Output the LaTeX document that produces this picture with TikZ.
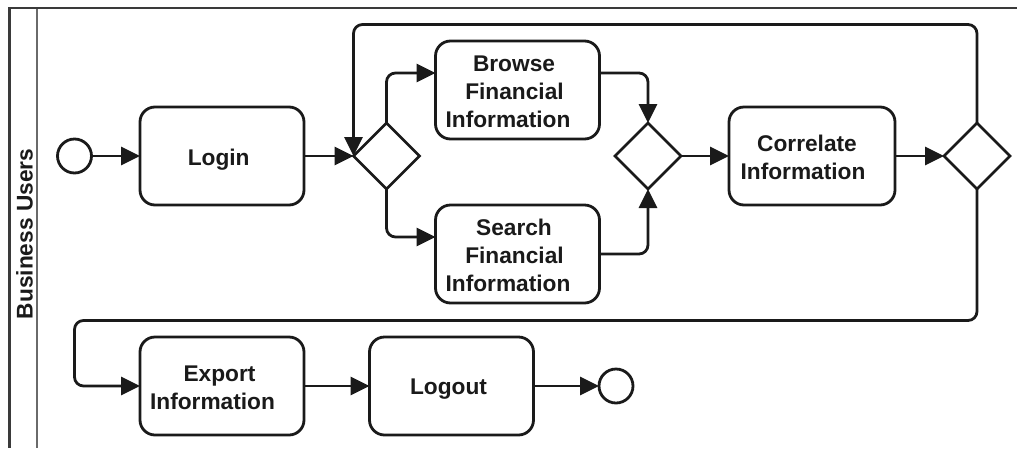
\documentclass[tikz,border=0pt]{standalone}
\usepackage{fontspec}
\setmainfont{Liberation Sans}
\usetikzlibrary{arrows.meta,shapes.geometric,positioning,calc}
\definecolor{ink}{HTML}{1A1A1A}
\definecolor{frameink}{HTML}{3A3A3A}
\definecolor{laneink}{HTML}{6A6A6A}
% #1 = how far the line sits left of the box centre, #2 = the text
\newcommand{\leftby}[2]{#2\hspace*{#1}\hspace*{#1}}
% opens a label; raises its height so the block sits lower
\newcommand{\topgap}[1]{\rule{0pt}{#1}}
\tikzset{
  x=1pt,y=-1pt,
  bpmn/.style={draw=ink,line width=2.8pt,outer sep=0pt,inner sep=0pt,fill=white},
  task/.style={bpmn,rectangle,rounded corners=15pt,minimum width=164pt,minimum height=98pt,align=center,
    font=\fontsize{22.7}{28}\selectfont\bfseries,text=ink},
  gate/.style={bpmn,diamond,aspect=1,minimum width=66pt,minimum height=66pt},
  event/.style={bpmn,circle,minimum size=34pt},
  flow/.style={draw=ink,line width=2.8pt,rounded corners=9pt,-{Triangle[length=19pt,width=18pt]}},
  framepart/.style={draw=frameink,line width=2.4pt},
  lanepart/.style={draw=laneink,line width=2pt}
}
\begin{document}
\begin{tikzpicture}
\useasboundingbox (0,0) rectangle (1017,448);
\coordinate (ftop) at (1017,8);
\coordinate (fcorner) at (9.5,8);
\coordinate (fbottom) at (9.5,448);
\coordinate (itop) at (36.5,8);
\coordinate (ibottom) at (36.5,448);
\draw[lanepart] (itop) -- (ibottom);
\draw[framepart] (ftop) -- (fcorner) -- (fbottom);
\node[rotate=90,font=\fontsize{22.7}{28}\selectfont\bfseries,text=ink,inner sep=0pt] (lane) at (24.5,234) {Business Users};

\node[event] (start) at (74.5,156) {};
\node[task] (login) at (222,156) {\topgap{24pt}\leftby{3.3pt}{Login}};
\node[task] (export) at (222,386) {\topgap{20pt}\leftby{2.5pt}{Export}\\\leftby{9.5pt}{Information}};
\node[gate] (g1) at (386.5,156) {};
\node[task] (browse) at (517.5,90) {\topgap{18.5pt}\leftby{3.5pt}{Browse}\\\leftby{6pt}{Financial}\\\leftby{9.5pt}{Information}};
\node[task] (search) at (517.5,254) {\topgap{18.5pt}\leftby{3.5pt}{Search}\\\leftby{6pt}{Financial}\\\leftby{9.5pt}{Information}};
\node[gate] (g2) at (648,156) {};
\node[task,minimum width=166pt] (corr) at (812,156) {\topgap{19.5pt}\leftby{5pt}{Correlate}\\\leftby{9pt}{Information}};
\node[gate] (g3) at (977,156) {};
\node[task] (logout) at (451.5,386) {\topgap{22pt}\leftby{3pt}{Logout}};
\node[event] (end) at (616,386) {};

\coordinate (loopa) at (977,24.5);
\coordinate (loopb) at (353.5,24.5);
\coordinate (lowa) at (977,320.5);
\coordinate (lowb) at (74.5,320.5);
\coordinate (lowc) at (74.5,386);

\draw[flow] (start) -- (login);
\draw[flow] (login) -- (g1.west);
\draw[flow] (g1.north) |- ([yshift=17pt]browse.west);
\draw[flow] (g1.south) |- ([yshift=17pt]search.west);
\draw[flow] ([yshift=17pt]browse.east) -| (g2.north);
\draw[flow] (search.east) -| (g2.south);
\draw[flow] (g2) -- (corr);
\draw[flow] (corr) -- (g3.west);
\draw[flow] (g3.north) -- (loopa) -- (loopb) -- (g1.west);
\draw[flow] (g3.south) -- (lowa) -- (lowb) -- (lowc) -- (export.west);
\draw[flow] (export) -- (logout);
\draw[flow] (logout) -- (end);
\end{tikzpicture}
\end{document}
